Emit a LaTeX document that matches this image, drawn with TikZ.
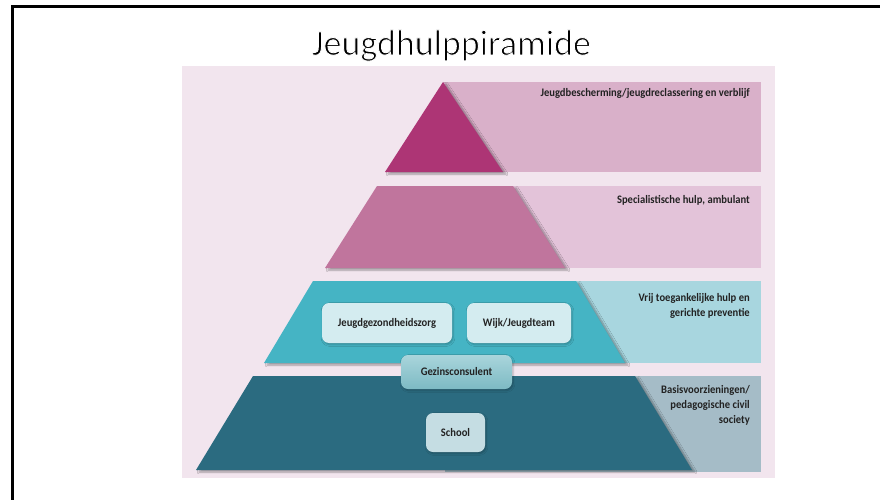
\documentclass[tikz,border=0pt]{standalone}
\usepackage{fontspec}
\setmainfont{Carlito}
\newfontfamily\labfont[FakeStretch=0.92]{Carlito}
\usetikzlibrary{shadows.blur}
\definecolor{bgpink}{HTML}{F2E5EE}
\definecolor{triA}{HTML}{AD3575}
\definecolor{bandA}{HTML}{D9B0C9}
\definecolor{triB}{HTML}{C0759D}
\definecolor{bandB}{HTML}{E3C3D9}
\definecolor{triC}{HTML}{45B4C4}
\definecolor{bandC}{HTML}{A8D6DF}
\definecolor{triD}{HTML}{2B6B80}
\definecolor{bandD}{HTML}{A5BCC7}
\definecolor{boxC}{HTML}{D4ECF0}
\definecolor{boxD}{HTML}{C5DDE3}
\definecolor{gzTop}{HTML}{A9D5DB}
\definecolor{gzBot}{HTML}{7DBAC4}
\definecolor{txt}{HTML}{222222}
\newcommand{\thintext}[1]{\special{pdf:literal direct 2 Tr 1 1 1 RG 0.9 w}#1\special{pdf:literal direct 0 Tr}}
\tikzset{
  levelshape/.style={blur shadow={shadow xshift=3pt, shadow yshift=-2pt, shadow blur steps=6, shadow opacity=35}},
  bandlabel/.style={font=\labfont\bfseries\fontsize{11.5}{15}\selectfont, text=txt, align=right, inner sep=0pt},
  innerbox/.style={rounded corners=7pt, font=\labfont\bfseries\fontsize{11.5}{13}\selectfont, text=txt, inner sep=0pt, blur shadow={shadow xshift=1pt, shadow yshift=-1.5pt, shadow blur steps=4, shadow opacity=25}},
}
\begin{document}
\begin{tikzpicture}[x=1pt,y=-1pt]
\useasboundingbox (0,0) rectangle (880,500);
\fill[white] (0,0) rectangle (880,500);
\draw[line width=2.5pt] (12.5,500) -- (12.5,6.5) -- (880,6.5);
\node[font=\fontsize{36}{40}\selectfont, anchor=base, inner sep=0pt] (title) at (451.5,55) {\thintext{Jeugdhulppiramide}};
\fill[bgpink] (182,66) rectangle (775,478);
% bands
\fill[bandA] (443,82) rectangle (761,172);
\fill[bandB] (445,186) rectangle (761,268);
\fill[bandC] (445,281) rectangle (761,363);
\fill[bandD] (445,376) rectangle (761,472);
% pyramid levels
\fill[triA, levelshape] (443,82) -- (503,172) -- (385,172) -- cycle;
\fill[triB, levelshape] (377,186) -- (513,186) -- (565,268) -- (325,268) -- cycle;
\fill[triC, levelshape] (313,281) -- (576,281) -- (625,363) -- (264,363) -- cycle;
\fill[triD, levelshape] (253,376) -- (635,376) -- (692,470) -- (196,470) -- cycle;
% band labels
\node[bandlabel, anchor=north east] (la) at (750,88) {Jeugdbescherming/jeugdreclassering en verblijf};
\node[bandlabel, anchor=north east] (lb) at (750,195) {Specialistische hulp, ambulant};
\node[bandlabel, anchor=north east] (lc) at (750,293) {Vrij toegankelijke hulp en\\gerichte preventie};
\node[bandlabel, anchor=north east] (ld) at (750,385) {Basisvoorzieningen/\\pedagogische civil\\society};
% inner boxes
\node[innerbox, fill=boxC, minimum width=130pt, minimum height=40pt] (jgz) at (387,323) {Jeugdgezondheidszorg};
\node[innerbox, fill=boxC, minimum width=104pt, minimum height=40pt] (wijk) at (519,323) {Wijk/Jeugdteam};
\node[innerbox, top color=gzTop, bottom color=gzBot, minimum width=111pt, minimum height=34pt] (gz) at (456.5,372) {Gezinsconsulent};
\node[innerbox, fill=boxD, minimum width=59pt, minimum height=39pt] (school) at (455.5,432.5) {School};
\end{tikzpicture}
\end{document}
